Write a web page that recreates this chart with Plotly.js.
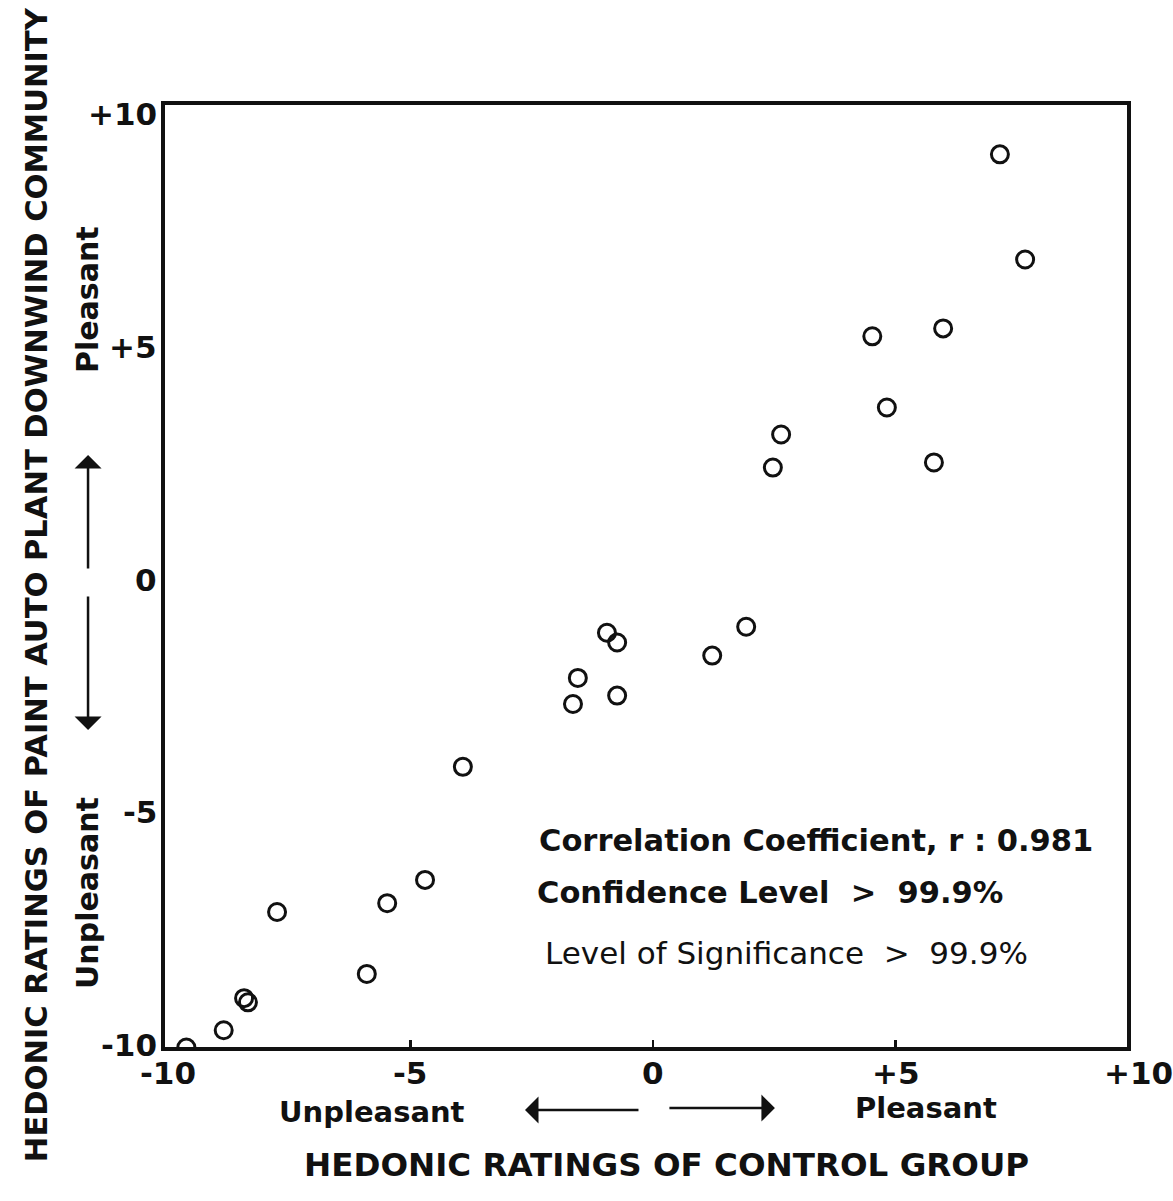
<!DOCTYPE html>
<html>
<head>
<meta charset="utf-8">
<script src="https://cdn.plot.ly/plotly-3.0.1.min.js"></script>
<style>html,body{margin:0;padding:0;background:#fff;}#chart{width:1173px;height:1201px;}</style>
</head>
<body>
<div id="chart"></div>
<script>
// Hedonic ratings: control group (x) vs. paint auto plant downwind community (y)
const controlRatings = [7.15, 7.67, 5.98, 4.52, 4.82, 5.79, 2.64, 2.47, 1.92, 1.22, -0.95, -0.74, -0.74, -1.55, -1.65, -3.92, -4.70, -5.48, -7.75, -5.90, -8.43, -8.35, -8.85, -9.62];
const communityRatings = [9.14, 6.88, 5.40, 5.23, 3.70, 2.52, 3.12, 2.41, -1.01, -1.63, -1.14, -1.35, -2.49, -2.11, -2.67, -4.02, -6.45, -6.95, -7.14, -8.47, -8.99, -9.08, -9.68, -10.05];

const xTickVals = [-10, -5, 0, 5, 10];
const xTickText = ['-10', '-5', '0', '+5', '+10'];
const yTickVals = [10, 5, 0, -5, -10];
const yTickText = ['+10', '+5', '0', '-5', '-10'];

const statsLines = ['Correlation Coefficient, r : 0.981', 'Confidence Level  >  99.9%', 'Level of Significance  >  99.9%'];
const xTitle = 'HEDONIC RATINGS OF CONTROL GROUP';
const yTitle = 'HEDONIC RATINGS OF PAINT AUTO PLANT DOWNWIND COMMUNITY';
const lowLabel = 'Unpleasant';
const highLabel = 'Pleasant';

const FONT = 'DejaVu Sans, Liberation Sans, Arial, sans-serif';
const BLK = '#111';
const X_RANGE = [-10.06, 9.77];
const Y_RANGE = [-10.04, 10.2];

const trace = {
  type: 'scatter', mode: 'markers',
  x: controlRatings, y: communityRatings,
  cliponaxis: true,
  marker: {symbol: 'circle-open', size: 17, color: BLK, line: {color: BLK, width: 3}},
  hoverinfo: 'x+y'
};

function esc(t) { return t.replace(/>/g, '&gt;').replace(/  /g, '&nbsp; '); }

const annotations = [];
// x tick labels (positioned along the axis scale, including +10 beyond the frame)
xTickVals.forEach((v, i) => annotations.push({
  xref: 'paper', yref: 'paper', x: (v - X_RANGE[0]) / (X_RANGE[1] - X_RANGE[0]), y: -0.028, yanchor: 'middle', xanchor: 'center',
  text: '<b>' + xTickText[i] + '</b>', showarrow: false, font: {family: FONT, size: 31, color: BLK}
}));
// y tick labels
yTickVals.forEach((v, i) => annotations.push({
  xref: 'paper', yref: 'y', x: -0.006, y: v, xanchor: 'right', yanchor: 'middle',
  text: '<b>' + yTickText[i] + '</b>', showarrow: false, font: {family: FONT, size: 31, color: BLK}
}));
// stats text
const statsPos = [[0.3867, 0.2197, true, 30.5], [0.3846, 0.1635, true, 30.5], [0.393, 0.0998, false, 31]];
statsLines.forEach((t, i) => annotations.push({
  xref: 'paper', yref: 'paper', x: statsPos[i][0], y: statsPos[i][1], xanchor: 'left', yanchor: 'middle',
  text: statsPos[i][2] ? '<b>' + esc(t) + '</b>' : esc(t),
  showarrow: false, font: {family: FONT, size: statsPos[i][3], color: BLK}
}));
// axis titles
annotations.push({xref: 'paper', yref: 'paper', x: 0.5218, y: -0.1253, xanchor: 'center', yanchor: 'middle',
  text: '<b>' + xTitle + '</b>', showarrow: false, font: {family: FONT, size: 32.5, color: BLK}});
annotations.push({xref: 'paper', yref: 'paper', x: -0.134, y: 0.4904, xanchor: 'center', yanchor: 'middle', textangle: -90,
  text: '<b>' + yTitle + '</b>', showarrow: false, font: {family: FONT, size: 30.5, color: BLK}});
// direction labels
annotations.push({xref: 'paper', yref: 'paper', x: 0.2152, y: -0.069, xanchor: 'center', yanchor: 'middle',
  text: '<b>' + lowLabel + '</b>', showarrow: false, font: {family: FONT, size: 29, color: BLK}});
annotations.push({xref: 'paper', yref: 'paper', x: 0.791, y: -0.0648, xanchor: 'center', yanchor: 'middle',
  text: '<b>' + highLabel + '</b>', showarrow: false, font: {family: FONT, size: 29, color: BLK}});
annotations.push({xref: 'paper', yref: 'paper', x: -0.080, y: 0.793, xanchor: 'center', yanchor: 'middle', textangle: -90,
  text: '<b>' + highLabel + '</b>', showarrow: false, font: {family: FONT, size: 30, color: BLK}});
annotations.push({xref: 'paper', yref: 'paper', x: -0.080, y: 0.1635, xanchor: 'center', yanchor: 'middle', textangle: -90,
  text: '<b>' + lowLabel + '</b>', showarrow: false, font: {family: FONT, size: 30, color: BLK}});
// arrows
const arrowStyle = {showarrow: true, text: '', arrowhead: 1, arrowsize: 1.8, arrowwidth: 2.5, arrowcolor: BLK, xref: 'paper', yref: 'paper'};
annotations.push(Object.assign({}, arrowStyle, {x: -0.080, y: 0.6285, ax: 0, ay: 115}));
annotations.push(Object.assign({}, arrowStyle, {x: -0.080, y: 0.3365, ax: 0, ay: -135}));
annotations.push(Object.assign({}, arrowStyle, {x: 0.3742, y: -0.0669, ax: 115, ay: 0}));
annotations.push(Object.assign({}, arrowStyle, {x: 0.634, y: -0.0648, ax: -107, ay: 0}));

const layout = {
  width: 1173, height: 1201,
  margin: {l: 165, r: 46, t: 105, b: 154},
  paper_bgcolor: '#fff', plot_bgcolor: '#fff',
  showlegend: false,
  xaxis: {range: X_RANGE, showgrid: false, zeroline: false, showline: true, mirror: true,
    linecolor: BLK, linewidth: 4, tickvals: [-5, 0, 5], ticks: 'inside', ticklen: 7, tickwidth: 2.5,
    tickcolor: BLK, showticklabels: false},
  yaxis: {range: Y_RANGE, showgrid: false, zeroline: false, showline: true, mirror: true,
    linecolor: BLK, linewidth: 4, ticks: '', showticklabels: false},
  annotations: annotations
};

Plotly.newPlot('chart', [trace], layout, {displayModeBar: false, staticPlot: true});
</script>
</body>
</html>
